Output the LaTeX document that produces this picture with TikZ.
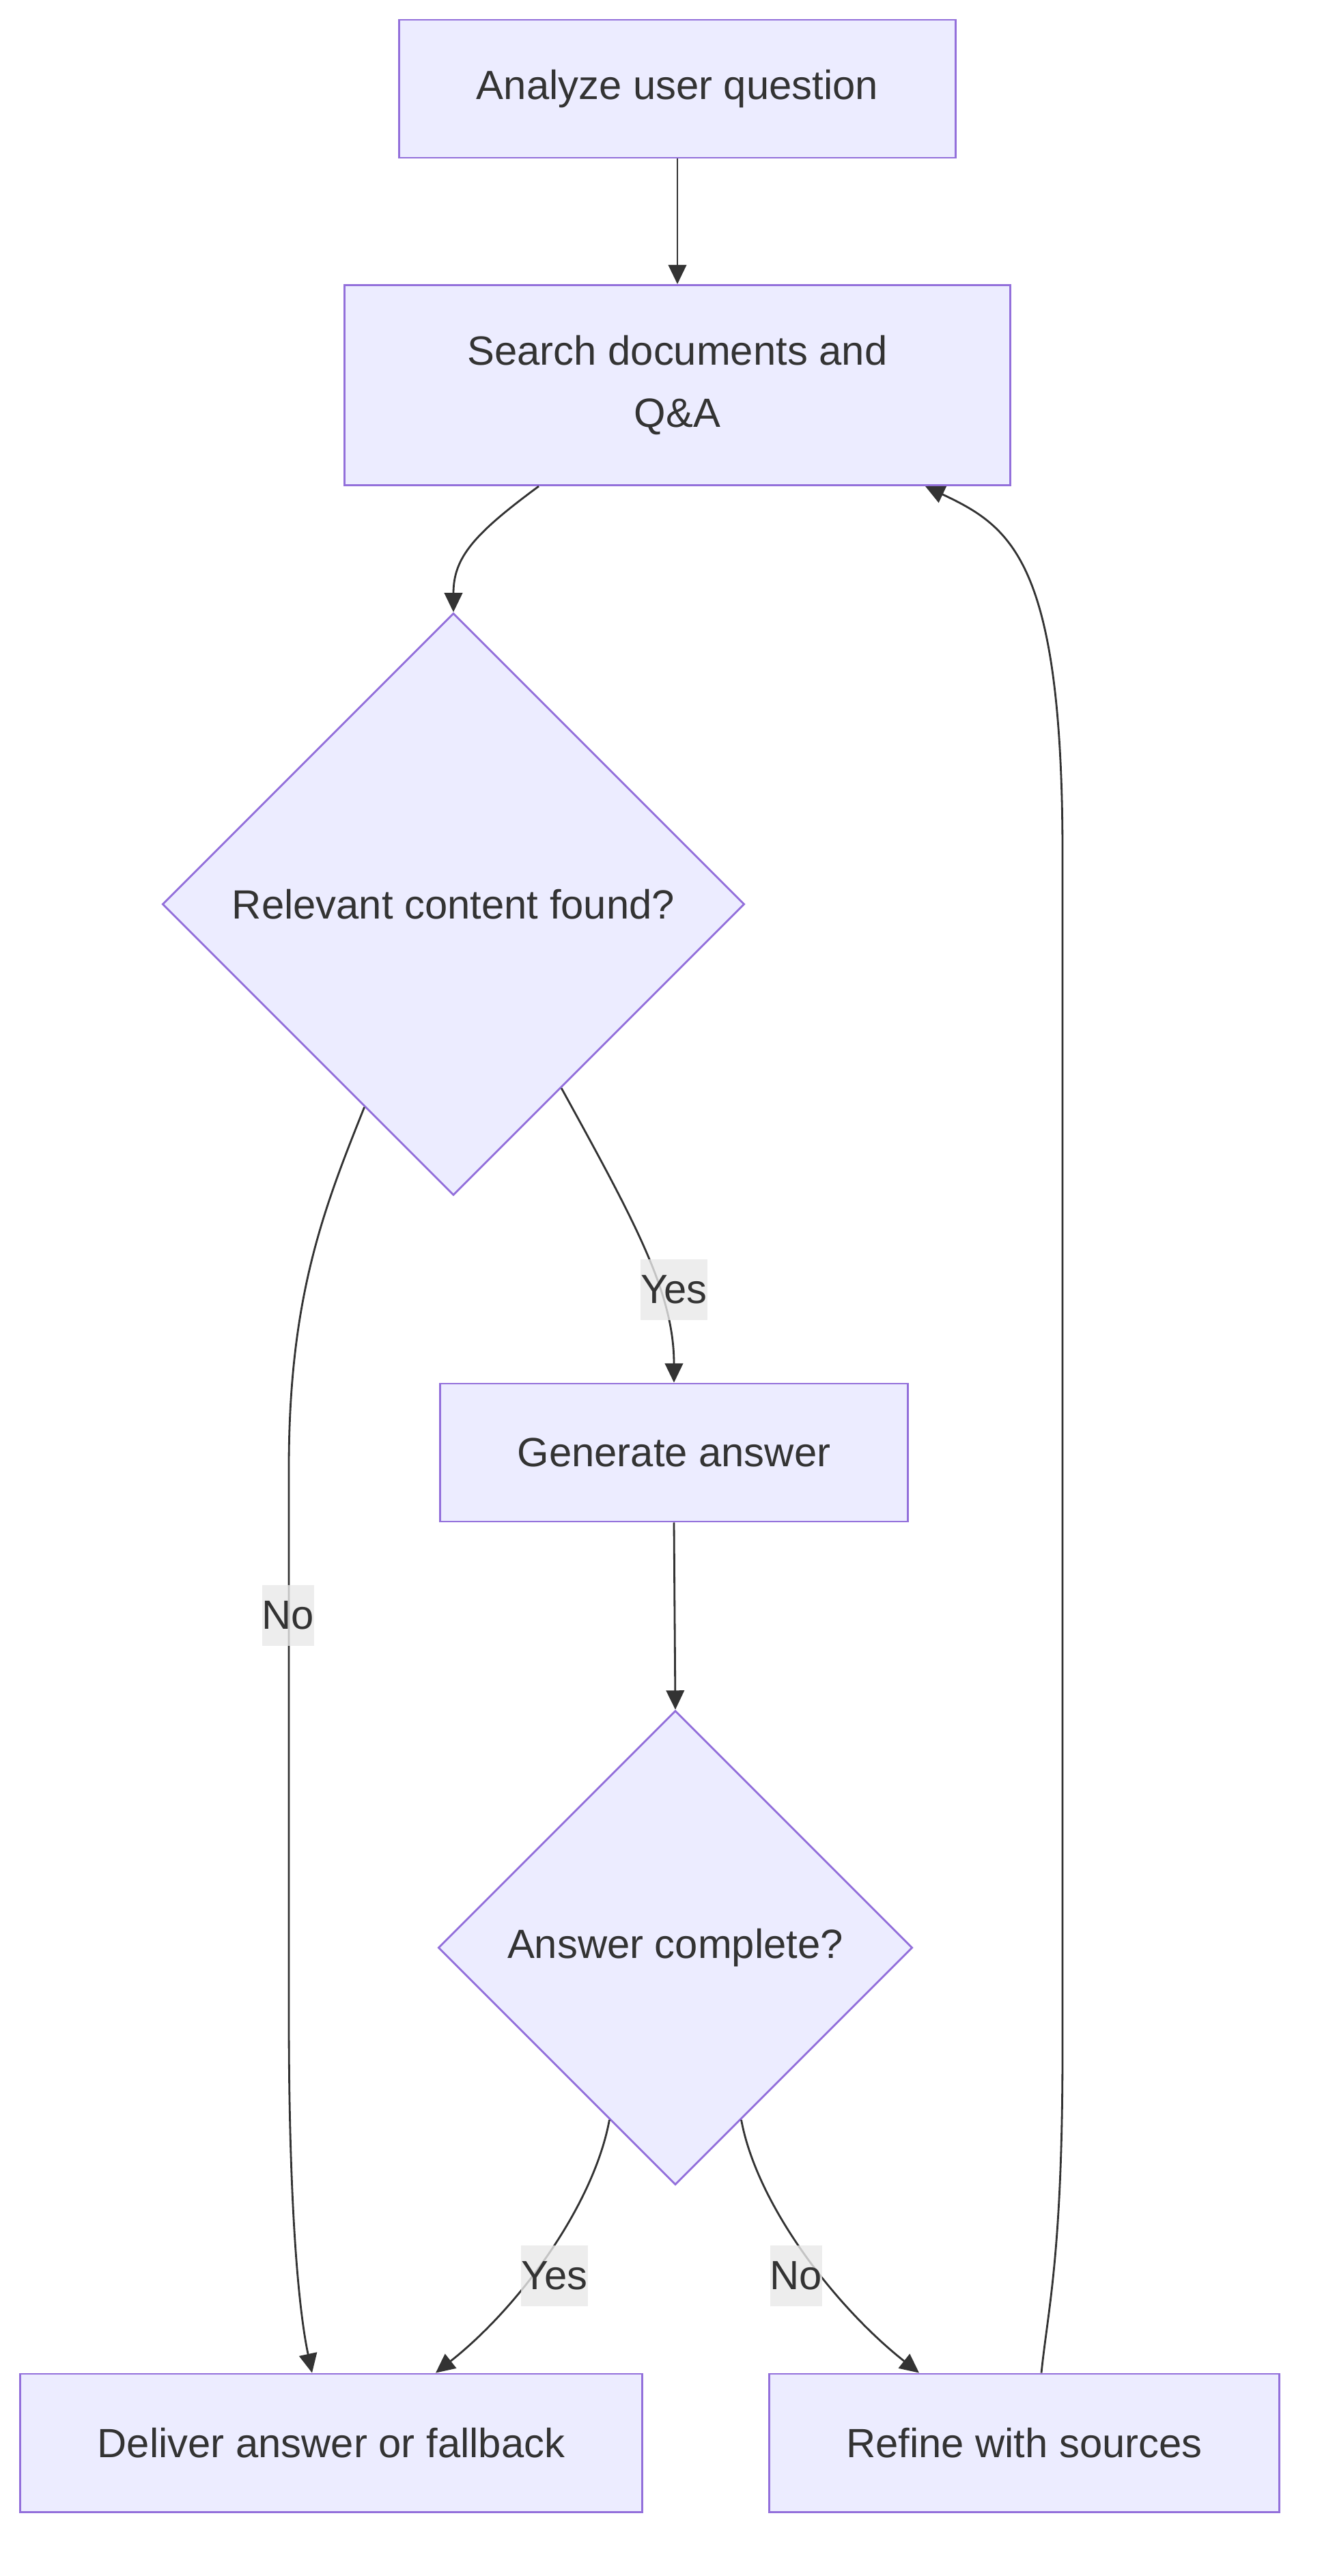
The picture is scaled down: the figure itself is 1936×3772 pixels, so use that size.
\documentclass[tikz,border=0pt]{standalone}
\usepackage{fontspec}
\setmainfont{Liberation Sans}
\usetikzlibrary{shapes.geometric,arrows.meta,calc}
\definecolor{boxfill}{HTML}{ECECFF}
\definecolor{boxline}{HTML}{9370DB}
\definecolor{ink}{HTML}{333333}
\definecolor{labelbg}{HTML}{E8E8E8}

\begin{document}
\begin{tikzpicture}[x=0.01cm, y=-0.01cm,
    font=\fontsize{17pt}{26pt}\selectfont, text=ink,
    box/.style={draw=boxline, fill=boxfill, line width=0.8pt, minimum height=2.02cm, inner sep=0pt, align=center},
    choice/.style={diamond, draw=boxline, fill=boxfill, line width=0.8pt, inner sep=0pt, aspect=1},
    flow/.style={draw=ink, line width=0.8pt, -{Triangle[length=8pt, width=7.5pt]}},
    tag/.style={fill=labelbg, fill opacity=0.8, text opacity=1, inner xsep=0pt, minimum height=0.89cm}]
    \useasboundingbox (0,0) rectangle (1936,3772);

    % The boxes
    \node[box, minimum width=8.15cm] (analyze) at (992,130) {Analyze user question};
    \node[box, minimum width=9.74cm, minimum height=2.93cm] (search) at (992,564) {Search documents and\\Q\&A};
    \node[choice, minimum width=8.52cm, minimum height=8.52cm] (found) at (664,1324) {Relevant content found?};
    \node[box, minimum width=6.84cm] (generate) at (987,2127) {Generate answer};
    \node[choice, minimum width=6.94cm, minimum height=6.94cm] (complete) at (989,2852) {Answer complete?};
    \node[box, minimum width=9.11cm] (deliver) at (485,3577) {Deliver answer or fallback};
    \node[box, minimum width=7.47cm] (refine) at (1500,3577) {Refine with sources};

    % The arrows
    \draw[flow] (analyze) -- (search);
    \draw[flow] ($(search.south)+(-203,0)$) .. controls +(-95,70) and +(0,-80) .. (found.north);
    \draw[flow] ($(found.south)!0.37!(found.east)$) .. controls +(110,200) and +(0,-130) .. (generate.north);
    \draw[flow] ($(found.south)!0.305!(found.west)$) .. controls +(-60,150) and +(0,-250) .. (423,2150) -- (423,2950) .. controls +(0,350) and +(-12,-56) .. ($(deliver.north)+(-28,0)$);
    \draw[flow] (generate.south) -- (complete.north);
    \draw[flow] ($(complete.south)!0.277!(complete.west)$) .. controls +(-23,125) and +(122,-96) .. ($(deliver.north)+(153,0)$);
    \draw[flow] ($(complete.south)!0.277!(complete.east)$) .. controls +(23,125) and +(-122,-96) .. ($(refine.north)+(-154,0)$);
    \draw[flow] ($(refine.north)+(25,0)$) .. controls +(10,-96) and +(0,300) .. (1556,3000) -- (1556,1250) .. controls +(0,-430) and +(125,59) .. ($(search.south)+(363,0)$);

    % The labels
    \node[tag, minimum width=0.97cm] (yes1) at (987,1888) {Yes};
    \node[tag, minimum width=0.74cm] (no1) at (422,2365) {No};
    \node[tag, minimum width=0.97cm] (yes2) at (812,3332) {Yes};
    \node[tag, minimum width=0.76cm] (no2) at (1166,3332) {No};
\end{tikzpicture}
\end{document}
